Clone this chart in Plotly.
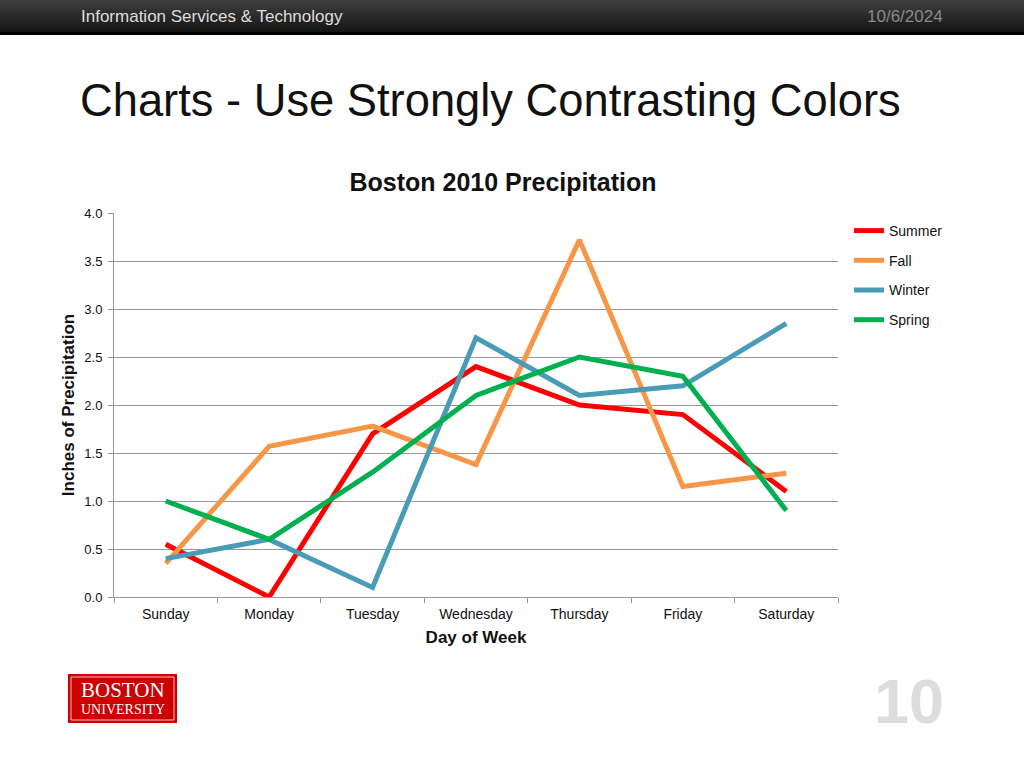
import plotly.graph_objects as go

days = ["Sunday", "Monday", "Tuesday", "Wednesday", "Thursday", "Friday", "Saturday"]
summer = [0.55, 0.0, 1.7, 2.4, 2.0, 1.9, 1.1]
fall = [0.35, 1.57, 1.78, 1.38, 3.72, 1.15, 1.29]
winter = [0.4, 0.6, 0.1, 2.7, 2.1, 2.2, 2.85]
spring = [1.0, 0.6, 1.3, 2.1, 2.5, 2.3, 0.9]
series = [("Summer", summer, "#FF0000"), ("Fall", fall, "#F79646"),
          ("Winter", winter, "#4A9BB5"), ("Spring", spring, "#00B050")]

L, R, T, B = 114, 838, 213, 597
W, H = 1024, 768

def px(x):
    return (x - L) / (R - L)

def py(y):
    return (B - y) / (B - T)

fig = go.Figure()
for i, (name, vals, col) in enumerate(series):
    fig.add_trace(go.Scatter(x=days, y=vals, name=name, mode="lines",
                             line=dict(color=col, width=5), legendgroup=name))

shapes = []
# header gradient
top_c = (62, 62, 62)
bot_c = (22, 22, 22)
n = 16
for k in range(n):
    t = k / (n - 1)
    c = tuple(int(top_c[j] + (bot_c[j] - top_c[j]) * t) for j in range(3))
    y0 = 32 * k / n
    y1 = 32 * (k + 1) / n
    shapes.append(dict(type="rect", xref="paper", yref="paper",
                       x0=px(0), x1=px(W), y0=py(y1 + 0.3), y1=py(y0),
                       fillcolor="rgb(%d,%d,%d)" % c, line=dict(width=0), layer="below"))
shapes.append(dict(type="rect", xref="paper", yref="paper", x0=px(0), x1=px(W),
                   y0=py(35), y1=py(32), fillcolor="#000000", line=dict(width=0), layer="below"))
# logo
shapes.append(dict(type="rect", xref="paper", yref="paper", x0=px(68), x1=px(177),
                   y0=py(723), y1=py(674), fillcolor="#CC0000", line=dict(width=0)))
shapes.append(dict(type="rect", xref="paper", yref="paper", x0=px(71), x1=px(174),
                   y0=py(720), y1=py(677), fillcolor="rgba(0,0,0,0)",
                   line=dict(width=1, color="#F4C0C0")))

annotations = [
    dict(text="Information Services & Technology", x=px(79), y=py(16), xref="paper", yref="paper",
         xanchor="left", yanchor="middle", showarrow=False,
         font=dict(family="Liberation Sans", size=17, color="#DDDDDD")),
    dict(text="10/6/2024", x=px(945), y=py(16), xref="paper", yref="paper",
         xanchor="right", yanchor="middle", showarrow=False,
         font=dict(family="Liberation Sans", size=17, color="#8A8A8A")),
    dict(text="Charts - Use Strongly Contrasting Colors", x=px(78), y=py(101), xref="paper", yref="paper",
         xanchor="left", yanchor="middle", showarrow=False,
         font=dict(family="Liberation Sans", size=45.3, color="#111111")),
    dict(text="BOSTON", x=px(122.5), y=py(690), xref="paper", yref="paper",
         xanchor="center", yanchor="middle", showarrow=False,
         font=dict(family="Liberation Serif", size=21, color="#FFFFFF")),
    dict(text="UNIVERSITY", x=px(122.5), y=py(709), xref="paper", yref="paper",
         xanchor="center", yanchor="middle", showarrow=False,
         font=dict(family="Liberation Serif", size=14, color="#FFFFFF")),
    dict(text="<b>10</b>", x=px(946), y=py(701), xref="paper", yref="paper",
         xanchor="right", yanchor="middle", showarrow=False,
         font=dict(family="Liberation Sans", size=63, color="#DDDDDD")),
]

fig.update_layout(
    width=W, height=H,
    margin=dict(l=L, r=W - R, t=T, b=H - B, pad=0),
    paper_bgcolor="white", plot_bgcolor="white",
    font=dict(family="Liberation Sans", size=14, color="#111111"),
    showlegend=True,
    title=dict(text="<b>Boston 2010 Precipitation</b>", x=px(503), xref="paper", xanchor="center",
               y=1 - 182 / H, yanchor="middle", font=dict(size=25, color="#111111")),
    xaxis=dict(type="category", range=[-0.5, 6.5], showgrid=False, showline=True,
               linecolor="#999999", linewidth=1,
               ticks="outside", tickson="boundaries", ticklen=5, tickcolor="#999999",
               tickfont=dict(size=14), ticklabelstandoff=4,
               title=dict(text="<b>Day of Week</b>", font=dict(size=17), standoff=10),
               fixedrange=True),
    yaxis=dict(range=[0, 4.0], dtick=0.5, tickformat=".1f", showgrid=True, gridcolor="#999999",
               gridwidth=1, showline=True, linecolor="#999999", linewidth=1, zeroline=False,
               ticks="outside", ticklen=5, tickcolor="#999999", tickfont=dict(size=13),
               ticklabelstandoff=3,
               title=dict(text="<b>Inches of Precipitation</b>", font=dict(size=17), standoff=5),
               fixedrange=True),
    legend=dict(x=px(849), y=py(215), xanchor="left", yanchor="top", traceorder="grouped",
                tracegroupgap=8.5, font=dict(size=14), itemwidth=30, bgcolor="rgba(0,0,0,0)"),
    shapes=shapes, annotations=annotations,
)

fig.write_html("out.html", config={"displayModeBar": False},
               post_script="document.body.style.margin='0';document.body.style.overflow='hidden';")
